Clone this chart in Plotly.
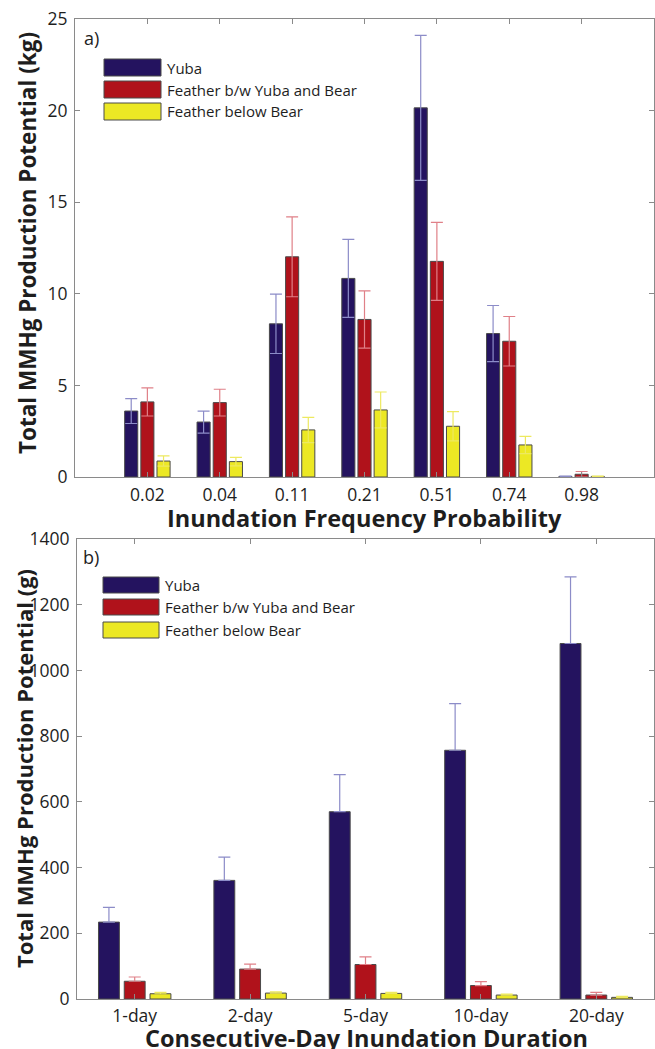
import plotly.graph_objects as go

# ---------------- data ----------------
series = ["Yuba", "Feather b/w Yuba and Bear", "Feather below Bear"]

freq_cats = ["0.02", "0.04", "0.11", "0.21", "0.51", "0.74", "0.98"]
freq_yuba = [3.6, 3.0, 8.36, 10.84, 20.15, 7.83, 0.03]
freq_yuba_err = [0.68, 0.6, 1.62, 2.13, 3.96, 1.53, 0.02]
freq_fyb = [4.1, 4.06, 12.02, 8.6, 11.77, 7.41, 0.15]
freq_fyb_err = [0.77, 0.73, 2.18, 1.56, 2.13, 1.35, 0.15]
freq_fbb = [0.87, 0.84, 2.57, 3.66, 2.77, 1.75, 0.03]
freq_fbb_err = [0.28, 0.23, 0.69, 0.98, 0.8, 0.47, 0.02]

dur_cats = ["1-day", "2-day", "5-day", "10-day", "20-day"]
dur_yuba = [234, 361, 570, 757, 1082]
dur_yuba_err = [45, 71, 113, 142, 203]
dur_fyb = [54, 91, 105, 41, 12]
dur_fyb_err = [13, 15, 23, 12, 8]
dur_fbb = [16, 18, 17, 12, 5]
dur_fbb_err = [4, 4, 3, 3, 3]

# ---------------- style ----------------
W, H = 655, 1049
bar_colors = ["#24135F", "#B0121B", "#ECE824"]
err_colors = ["#8C8CC8", "#E08088", "#EDE960"]
axis_gray = "#8A8A8A"
txt = "#1E1E1E"
tick_font = dict(family="Open Sans", size=17.5, color=txt)
xtitle_font = dict(family="Open Sans", size=23.5, color=txt)
ytitle_font = dict(family="Open Sans", size=22.5, color=txt)

fig = go.Figure()

panel_a = [(freq_yuba, freq_yuba_err), (freq_fyb, freq_fyb_err), (freq_fbb, freq_fbb_err)]
for i, (vals, errs) in enumerate(panel_a):
    fig.add_trace(go.Bar(
        x=freq_cats, y=vals, name=series[i], xaxis="x", yaxis="y",
        marker=dict(color=bar_colors[i], line=dict(color="#4A4A4A", width=1)),
        error_y=dict(type="data", array=errs, symmetric=True, color=err_colors[i],
                     thickness=1.2, width=6),
        showlegend=False, offsetgroup=str(i)))

panel_b = [(dur_yuba, dur_yuba_err), (dur_fyb, dur_fyb_err), (dur_fbb, dur_fbb_err)]
for i, (vals, errs) in enumerate(panel_b):
    fig.add_trace(go.Bar(
        x=dur_cats, y=vals, name=series[i], xaxis="x2", yaxis="y2",
        marker=dict(color=bar_colors[i], line=dict(color="#4A4A4A", width=1)),
        error_y=dict(type="data", array=errs, arrayminus=[0] * len(errs),
                     symmetric=False, color=err_colors[i], thickness=1.2, width=6),
        showlegend=False, offsetgroup=str(i)))

def px_x(p):
    return p / W

def px_y(p):
    return 1 - p / H

common_x = dict(type="category", showline=True, linecolor=axis_gray, linewidth=1,
                mirror="ticks", ticks="inside", ticklen=5, tickcolor=axis_gray,
                tickfont=tick_font, showgrid=False, zeroline=False, automargin=False,
                fixedrange=True)
common_y = dict(showline=True, linecolor=axis_gray, linewidth=1, mirror="ticks",
                ticks="inside", ticklen=5, tickcolor=axis_gray, tickfont=tick_font,
                showgrid=False, zeroline=False, automargin=False, fixedrange=True)

fig.update_layout(
    width=W, height=H,
    margin=dict(l=0, r=0, t=0, b=0),
    paper_bgcolor="white", plot_bgcolor="white",
    barmode="group", bargap=0.33, bargroupgap=0.19,
    xaxis=dict(common_x, domain=[px_x(75), px_x(654)], range=[-1, 7], anchor="y",
               ticklabelstandoff=2),
    yaxis=dict(common_y, domain=[px_y(477), px_y(19)], range=[0, 25], dtick=5,
               anchor="x", ticklabelstandoff=3),
    xaxis2=dict(common_x, domain=[px_x(77), px_x(654)], range=[-0.5, 4.5], anchor="y2",
                ticklabelstandoff=1),
    yaxis2=dict(common_y, domain=[px_y(999), px_y(539)], range=[0, 1400], dtick=200,
                anchor="x2", ticklabelstandoff=3),
    showlegend=False,
)

annotations = []
shapes = []

# axis titles
annotations.append(dict(text="<b>Inundation Frequency Probability</b>", x=px_x(364),
                        y=px_y(518), xref="paper", yref="paper", showarrow=False,
                        font=xtitle_font, xanchor="center", yanchor="middle"))
annotations.append(dict(text="<b>Consecutive-Day Inundation Duration</b>", x=px_x(366),
                        y=px_y(1038), xref="paper", yref="paper", showarrow=False,
                        font=xtitle_font, xanchor="center", yanchor="middle"))
annotations.append(dict(text="<b>Total MMHg Production Potential (kg)</b>", x=px_x(27),
                        y=px_y(243), xref="paper", yref="paper", showarrow=False,
                        font=ytitle_font, textangle=-90, xanchor="center", yanchor="middle"))
annotations.append(dict(text="<b>Total MMHg Production Potential (g)</b>", x=px_x(24),
                        y=px_y(769), xref="paper", yref="paper", showarrow=False,
                        font=dict(ytitle_font, size=22), textangle=-90,
                        xanchor="center", yanchor="middle"))

# panel labels
annotations.append(dict(text="a)", x=px_x(82), y=px_y(38), xref="paper", yref="paper",
                        showarrow=False, font=dict(family="Open Sans", size=18, color=txt),
                        xanchor="left", yanchor="middle"))
annotations.append(dict(text="b)", x=px_x(81), y=px_y(557), xref="paper", yref="paper",
                        showarrow=False, font=dict(family="Open Sans", size=18, color=txt),
                        xanchor="left", yanchor="middle"))

# hand-drawn legends (large MATLAB-style swatches)
legend_rows = {
    "a": dict(x0=104, x1=161, tx=165, rows=[(59, 76), (81, 98), (103, 120)]),
    "b": dict(x0=103, x1=159, tx=163, rows=[(577, 593), (599, 615), (622, 638)]),
}
for key, spec in legend_rows.items():
    for i, (t, b) in enumerate(spec["rows"]):
        shapes.append(dict(type="rect", xref="paper", yref="paper",
                           x0=px_x(spec["x0"]), x1=px_x(spec["x1"]),
                           y0=px_y(b), y1=px_y(t), fillcolor=bar_colors[i],
                           line=dict(color="#4A4A4A", width=1)))
        annotations.append(dict(text=series[i], x=px_x(spec["tx"]), y=px_y((t + b) / 2),
                                xref="paper", yref="paper", showarrow=False,
                                font=dict(family="Open Sans", size=15, color=txt),
                                xanchor="left", yanchor="middle"))

fig.update_layout(annotations=annotations, shapes=shapes)

fig.write_html("out.html")
